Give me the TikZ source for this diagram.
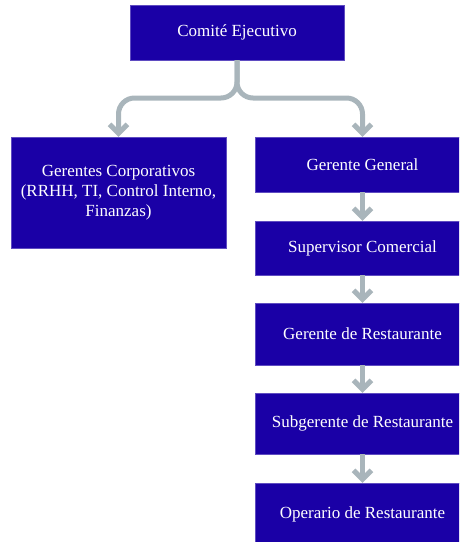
\documentclass[tikz,border=0pt]{standalone}
\usepackage{fontspec}
\setmainfont{Liberation Serif}
\usetikzlibrary{arrows.meta}
\definecolor{boxblue}{HTML}{1A00A6}
\definecolor{arrowgray}{HTML}{A9B5BB}
\tikzset{
  orgbox/.style={fill=boxblue, draw=boxblue!70!white, line width=0.4pt, text=white, align=center,
    minimum width=215pt, inner sep=2pt, font=\fontsize{17pt}{20pt}\selectfont},
  conn/.style={draw=arrowgray, line width=5pt, rounded corners=16pt,
    -{Straight Barb[length=9pt,width=18pt,line width=5pt]}},
}
\begin{document}
\begin{tikzpicture}[x=1pt,y=1pt]
\useasboundingbox (0,0) rectangle (459,-542);
\begin{scope}
\clip (0,0) rectangle (459,-542);
\node[orgbox, minimum width=214pt, minimum height=55pt] (ce) at (237,-32.5) {Comité Ejecutivo};
\node[orgbox, minimum height=111pt] (gc) at (118.5,-192.5) {Gerentes Corporativos\\(RRHH, TI, Control Interno,\\Finanzas)};
\node[orgbox, minimum height=55pt] (gg) at (362.5,-164.5) {Gerente General};
\node[orgbox, minimum height=54pt] (sc) at (362.5,-248) {Supervisor Comercial};
\node[orgbox, minimum height=62pt] (gr) at (362.5,-334) {Gerente de Restaurante};
\node[orgbox, minimum height=61pt] (sg) at (362.5,-423.5) {Subgerente de Restaurante};
\node[orgbox, minimum height=62pt] (op) at (362.5,-514) {Operario de Restaurante};
\end{scope}
\coordinate (split) at (237,-98);
\draw[conn] (ce.south) -- (split) -| (gc.north);
\draw[conn] (ce.south) -- (split) -| (gg.north);
\draw[conn, rounded corners=0pt] (gg.south) -- (sc.north);
\draw[conn, rounded corners=0pt] (sc.south) -- (gr.north);
\draw[conn, rounded corners=0pt] (gr.south) -- (sg.north);
\draw[conn, rounded corners=0pt] (sg.south) -- (op.north);
\end{tikzpicture}
\end{document}
